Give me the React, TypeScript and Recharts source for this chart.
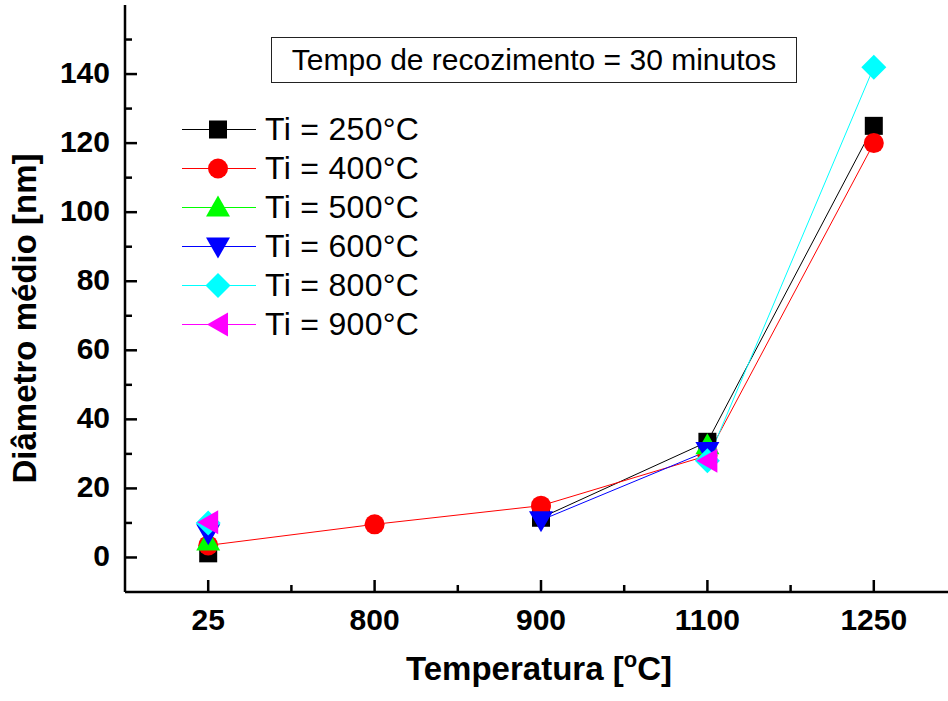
import React from "react";
import { LineChart, Line, XAxis, YAxis } from "recharts";

// x categories (equally spaced)
const temperatures = ["25", "800", "900", "1100", "1250"];

// mean diameter [nm] per Ti; null = no point
const ti250 = [1.2, null, 11.5, 33.5, 125];
const ti400 = [3.5, 9.6, 15, 29.5, 120];
const ti500 = [4.6, null, null, 32.5, null];
const ti600 = [7, null, 10.8, 30.8, null];
const ti800 = [10, null, null, 28, 142];
const ti900 = [10.2, null, null, 28, null];

const yMajor = [0, 20, 40, 60, 80, 100, 120, 140];
const yMinor = [10, 30, 50, 70, 90, 110, 130, 150];
const xMinor = [0.5, 1.5, 2.5, 3.5];

const data = temperatures.map((t, i) => ({
  idx: i,
  t250: ti250[i],
  t400: ti400[i],
  t500: ti500[i],
  t600: ti600[i],
  t800: ti800[i],
  t900: ti900[i],
}));

const series = [
  { key: "t250", name: "Ti = 250°C", color: "#000000", shape: "square" },
  { key: "t400", name: "Ti = 400°C", color: "#ff0000", shape: "circle" },
  { key: "t500", name: "Ti = 500°C", color: "#00ff00", shape: "up" },
  { key: "t600", name: "Ti = 600°C", color: "#0000ff", shape: "down" },
  { key: "t800", name: "Ti = 800°C", color: "#00ffff", shape: "diamond" },
  { key: "t900", name: "Ti = 900°C", color: "#ff00ff", shape: "left" },
];

const FONT = "'Liberation Sans', Arial, sans-serif";
const AX = { stroke: "#000", strokeWidth: 2.5 };

const Marker = ({ shape, cx, cy, color }: any) => {
  switch (shape) {
    case "square":
      return <rect x={cx - 9} y={cy - 9} width={18} height={18} fill={color} />;
    case "circle":
      return <circle cx={cx} cy={cy} r={10} fill={color} />;
    case "up":
      return <polygon points={`${cx},${cy - 12} ${cx + 12},${cy + 9} ${cx - 12},${cy + 9}`} fill={color} />;
    case "down":
      return <polygon points={`${cx - 12},${cy - 9} ${cx + 12},${cy - 9} ${cx},${cy + 12}`} fill={color} />;
    case "diamond":
      return <polygon points={`${cx},${cy - 12.5} ${cx + 12.5},${cy} ${cx},${cy + 12.5} ${cx - 12.5},${cy}`} fill={color} />;
    default:
      return <polygon points={`${cx - 11},${cy} ${cx + 10},${cy - 12} ${cx + 10},${cy + 12}`} fill={color} />;
  }
};

const dotFor = (shape: string, color: string) => (p: any) => {
  if (p.value == null || p.cy == null) return <g key={p.index} />;
  return (
    <g key={p.index}>
      <Marker shape={shape} cx={p.cx} cy={p.cy} color={color} />
    </g>
  );
};

const BottomTick = (props: any) => {
  const { x, y, payload } = props;
  const major = Number.isInteger(payload.value);
  return (
    <g>
      <line x1={x} y1={y} x2={x} y2={y - (major ? 12 : 7)} stroke="#000" strokeWidth={2.5} />
      {major && (
        <text x={x} y={y + 38} textAnchor="middle" fontFamily={FONT} fontWeight="bold" fontSize={30} fill="#000">
          {temperatures[payload.value]}
        </text>
      )}
    </g>
  );
};

const TopTick = (props: any) => {
  const { x, y, payload } = props;
  const major = Number.isInteger(payload.value);
  return <line x1={x} y1={y} x2={x} y2={y + (major ? 12 : 7)} stroke="#000" strokeWidth={2.5} />;
};

const LeftTick = (props: any) => {
  const { x, y, payload } = props;
  const major = yMajor.includes(payload.value);
  return (
    <g>
      <line x1={x} y1={y} x2={x + (major ? 12 : 7)} y2={y} stroke="#000" strokeWidth={2.5} />
      {major && (
        <text x={x - 15} y={y + 9} textAnchor="end" fontFamily={FONT} fontWeight="bold" fontSize={30} fill="#000">
          {payload.value}
        </text>
      )}
    </g>
  );
};

const RightTick = (props: any) => {
  const { x, y, payload } = props;
  const major = yMajor.includes(payload.value);
  return <line x1={x} y1={y} x2={x - (major ? 12 : 7)} y2={y} stroke="#000" strokeWidth={2.5} />;
};

const XTitle = (props: any) => {
  const vb = props.viewBox || { x: 125, y: 592, width: 832 };
  return (
    <text x={vb.x + vb.width / 2 - 2} y={vb.y + 88} textAnchor="middle" fontFamily={FONT} fontWeight="bold" fontSize={33} fill="#000">
      Temperatura [
      <tspan dy={-13} fontSize={22}>o</tspan>
      <tspan dy={13}>C]</tspan>
    </text>
  );
};

const YTitle = (props: any) => {
  const vb = props.viewBox || { x: 0, y: 5, height: 587 };
  const cx = 36;
  const cy = vb.y + vb.height / 2 + 20;
  return (
    <text x={cx} y={cy} transform={`rotate(-90 ${cx} ${cy})`} textAnchor="middle" fontFamily={FONT} fontWeight="bold" fontSize={33} fill="#000">
      Diâmetro médio [nm]
    </text>
  );
};

const LegendBox = () => (
  <div style={{ position: "absolute", left: 182, top: 110, fontFamily: FONT, fontSize: 32 }}>
    {series.map((s) => (
      <div key={s.key} style={{ display: "flex", alignItems: "center", height: 39, lineHeight: "39px" }}>
        <svg width={74} height={39} style={{ display: "block" }}>
          <line x1={0} y1={19.5} x2={74} y2={19.5} stroke={s.color} strokeWidth={1} />
          <Marker shape={s.shape} cx={36} cy={19.5} color={s.color} />
        </svg>
        <span style={{ marginLeft: 9, color: "#000", whiteSpace: "nowrap", letterSpacing: 0.3 }}>{s.name}</span>
      </div>
    ))}
  </div>
);

export default function App() {
  return (
    <div style={{ position: "absolute", left: 0, top: 0, width: 948, height: 701, overflow: "hidden", background: "#fff" }}>
      <LineChart width={960} height={701} data={data} margin={{ top: 5, right: 3, bottom: 0, left: 0 }}>
        <XAxis
          dataKey="idx"
          type="number"
          domain={[-0.5, 4.5]}
          allowDataOverflow
          ticks={[0, 1, 2, 3, 4, ...xMinor]}
          interval={0}
          height={109}
          tickSize={0}
          tickMargin={0}
          tickLine={false}
          tick={<BottomTick />}
          axisLine={AX}
          label={{ content: XTitle } as any}
        />
        <XAxis
          xAxisId="top"
          orientation="top"
          dataKey="idx"
          type="number"
          domain={[-0.5, 4.5]}
          allowDataOverflow
          ticks={[0, 1, 2, 3, 4, ...xMinor]}
          interval={0}
          height={0}
          tickSize={0}
          tickMargin={0}
          tickLine={false}
          tick={<TopTick />}
          axisLine={AX}
        />
        <YAxis
          type="number"
          domain={[-10, 160]}
          allowDataOverflow
          ticks={[...yMajor, ...yMinor]}
          interval={0}
          width={125}
          tickSize={0}
          tickMargin={0}
          tickLine={false}
          tick={<LeftTick />}
          axisLine={AX}
          label={{ content: YTitle } as any}
        />
        <YAxis
          yAxisId="right"
          orientation="right"
          type="number"
          domain={[-10, 160]}
          allowDataOverflow
          ticks={[...yMajor, ...yMinor]}
          interval={0}
          width={0}
          tickSize={0}
          tickMargin={0}
          tickLine={false}
          tick={<RightTick />}
          axisLine={AX}
        />
        {series.map((s) => (
          <Line
            key={s.key}
            dataKey={s.key}
            name={s.name}
            type="linear"
            stroke={s.color}
            strokeWidth={1}
            dot={dotFor(s.shape, s.color)}
            activeDot={false}
            connectNulls={false}
            isAnimationActive={false}
          />
        ))}
      </LineChart>
      <LegendBox />
      <div
        style={{
          position: "absolute",
          left: 271,
          top: 37,
          width: 526,
          height: 46,
          boxSizing: "border-box",
          border: "1px solid #222",
          display: "flex",
          alignItems: "center",
          justifyContent: "center",
          fontFamily: FONT,
          fontSize: 30,
          color: "#000",
          whiteSpace: "nowrap",
        }}
      >
        Tempo de recozimento = 30 minutos
      </div>
    </div>
  );
}
